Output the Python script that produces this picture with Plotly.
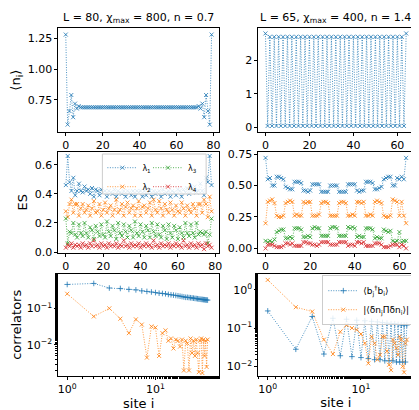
import plotly.graph_objects as go

n_left = [1.28,0.55,0.66,0.79,0.61,0.72,0.68,0.70,
0.69,0.69,0.69,0.69,0.69,0.69,0.69,0.69,0.69,0.69,0.69,0.69,0.69,0.69,0.69,0.69,
0.69,0.69,0.69,0.69,0.69,0.69,0.69,0.69,0.69,0.69,0.69,0.69,0.69,0.69,0.69,0.69,
0.69,0.69,0.69,0.69,0.69,0.69,0.69,0.69,0.69,0.69,0.69,0.69,0.69,0.69,0.69,0.69,
0.69,0.69,0.69,0.69,0.69,0.69,0.69,0.69,0.69,0.69,0.69,0.69,0.69,0.69,0.69,0.69,
0.70,0.68,0.72,0.61,0.79,0.66,0.55,1.28]
n_right = [2.8,0.05,2.7,0.05,2.7,0.05,2.7,0.05,2.7,0.05,2.7,0.05,2.7,0.05,2.7,0.05,
2.7,0.05,2.7,0.05,2.7,0.05,2.7,0.05,2.7,0.05,2.7,0.05,2.7,0.05,2.7,0.05,
2.7,0.05,2.7,0.05,2.7,0.05,2.7,0.05,2.7,0.05,2.7,0.05,2.7,0.05,2.7,0.05,
2.7,0.05,2.7,0.05,2.7,0.05,2.7,0.05,2.7,0.05,2.7,0.05,2.7,0.05,2.7,0.05,2.8]

l1_left = [0.46,0.66,0.48,0.42,0.51,0.39,0.42,0.47,0.42,0.41,
0.45,0.42,0.43,0.40,0.44,0.38,0.43,0.42,0.39,0.43,
0.41,0.42,0.38,0.42,0.41,0.40,0.43,0.38,0.42,0.41,
0.40,0.42,0.38,0.42,0.41,0.39,0.42,0.38,0.42,0.41,
0.42,0.38,0.42,0.39,0.41,0.42,0.38,0.42,0.40,0.41,
0.42,0.38,0.43,0.40,0.41,0.42,0.38,0.42,0.41,0.39,
0.43,0.42,0.38,0.43,0.41,0.44,0.40,0.43,0.42,0.45,
0.41,0.42,0.47,0.42,0.39,0.51,0.48,0.66,0.46]
l2_left = [0.28,0.24,0.33,0.36,0.27,0.33,0.33,0.25,0.30,0.33,
0.27,0.29,0.32,0.25,0.30,0.35,0.27,0.28,0.33,0.25,
0.29,0.34,0.27,0.30,0.32,0.25,0.29,0.36,0.27,0.29,
0.33,0.25,0.31,0.34,0.27,0.30,0.32,0.25,0.30,0.35,
0.25,0.31,0.32,0.27,0.30,0.34,0.25,0.36,0.29,0.27,
0.35,0.30,0.25,0.33,0.29,0.27,0.34,0.29,0.25,0.32,
0.28,0.27,0.34,0.30,0.25,0.32,0.29,0.27,0.33,0.30,
0.25,0.33,0.33,0.27,0.36,0.33,0.24,0.38,0.28]
l3_left = [0.23,0.06,0.14,0.13,0.20,0.12,0.10,0.19,0.13,0.11,
0.20,0.13,0.10,0.17,0.15,0.09,0.18,0.14,0.11,0.19,
0.12,0.10,0.21,0.14,0.11,0.18,0.15,0.09,0.20,0.13,
0.11,0.19,0.14,0.10,0.18,0.15,0.10,0.21,0.13,0.11,
0.19,0.14,0.10,0.18,0.15,0.10,0.20,0.14,0.11,0.19,
0.12,0.10,0.18,0.15,0.09,0.19,0.13,0.10,0.18,0.15,
0.09,0.17,0.13,0.10,0.20,0.13,0.11,0.19,0.13,0.10,
0.20,0.12,0.14,0.13,0.12,0.14,0.06,0.12,0.23]
l4_left = [0.03,0.05,0.04,0.06,0.03,0.05,0.04,0.05,0.03,0.06,
0.04,0.05,0.03,0.06,0.04,0.08,0.04,0.05,0.03,0.06,
0.04,0.05,0.03,0.06,0.04,0.05,0.04,0.06,0.03,0.05,
0.04,0.08,0.04,0.05,0.03,0.06,0.04,0.05,0.04,0.06,
0.03,0.05,0.04,0.06,0.04,0.05,0.03,0.08,0.04,0.05,
0.03,0.06,0.04,0.05,0.04,0.06,0.03,0.05,0.04,0.06,
0.04,0.05,0.03,0.08,0.04,0.05,0.03,0.06,0.04,0.05,
0.03,0.06,0.04,0.05,0.02,0.06,0.04,0.05,0.03]

l1_right = [0.72, 0.55,0.56,0.50,0.50, 0.57,0.57,0.56,0.55, 0.49,0.48,0.47,0.47,
0.53,0.53,0.53,0.52, 0.46,0.46,0.45,0.46, 0.51,0.51,0.51,0.51, 0.45,0.45,0.45,0.45,
0.50,0.50,0.50,0.50, 0.45,0.45,0.45,0.45, 0.51,0.51,0.51,0.51, 0.46,0.45,0.46,0.46,
0.53,0.53,0.53,0.52, 0.47,0.47,0.48,0.49, 0.55,0.56,0.57,0.57, 0.50,0.50,0.56,0.55,
0.57,0.55, 0.72]
l2_right = [0.20, 0.37,0.38,0.39,0.36, 0.26,0.25,0.25,0.26, 0.36,0.37,0.38,0.37,
0.26,0.27,0.26,0.26, 0.37,0.36,0.37,0.37, 0.26,0.26,0.26,0.27, 0.36,0.37,0.37,0.36,
0.26,0.26,0.26,0.26, 0.36,0.37,0.37,0.36, 0.26,0.26,0.27,0.26, 0.37,0.37,0.36,0.37,
0.26,0.26,0.27,0.26, 0.37,0.38,0.37,0.36, 0.26,0.25,0.25,0.26, 0.39,0.38,0.37,0.26,
0.37,0.26, 0.20]
l3_right = [0.06, 0.05,0.06,0.05,0.07, 0.13,0.14,0.15,0.15, 0.08,0.08,0.09,0.08,
0.16,0.16,0.16,0.15, 0.09,0.09,0.10,0.09, 0.16,0.17,0.16,0.16, 0.10,0.10,0.10,0.10,
0.16,0.17,0.17,0.16, 0.10,0.10,0.10,0.10, 0.17,0.16,0.17,0.16, 0.09,0.10,0.09,0.09,
0.16,0.16,0.16,0.15, 0.08,0.09,0.08,0.08, 0.15,0.14,0.13,0.14, 0.06,0.05,0.06,0.13,
0.05,0.06, 0.06]
l4_right = [0.00, 0.03,0.03,0.03,0.02, 0.01,0.01,0.01,0.02, 0.04,0.04,0.03,0.04,
0.02,0.02,0.02,0.02, 0.05,0.05,0.04,0.04, 0.03,0.03,0.02,0.03, 0.05,0.05,0.05,0.05,
0.03,0.03,0.03,0.03, 0.05,0.05,0.05,0.05, 0.02,0.03,0.03,0.02, 0.05,0.05,0.04,0.05,
0.02,0.02,0.02,0.02, 0.04,0.04,0.04,0.03, 0.01,0.01,0.01,0.02, 0.03,0.03,0.03,0.01,
0.03,0.02, 0.00]

bb_left = [0.45,0.48,0.36,0.35,0.33,0.32,0.30,0.29,0.28,0.27,0.26,0.255,0.25,0.24,0.235,
0.23,0.225,0.22,0.215,0.21,0.205,0.20,0.20,0.197,0.195,0.192,0.19,0.187,0.185,0.183,
0.18,0.178,0.176,0.175,0.173,0.172,0.17,0.169,0.168]
dn_left = [0.25,0.06,0.10,0.052,0.021,0.05,0.036,0.0045,0.032,0.03,0.005,0.021,0.025,
0.013,0.015,0.008,0.014,0.013,0.009,0.014,0.002,0.013,0.011,0.002,0.015,0.006,0.013,
0.005,0.014,0.006,0.0018,0.013,0.015,0.0017,0.014,0.005,0.013,0.0025,0.014]
bb_right = [0.28,0.028,0.2,0.021,0.18,0.019,0.17,0.018,0.16,0.017,0.155,0.016,0.15,0.015,
0.145,0.015,0.14,0.014,0.135,0.014,0.13,0.014,0.13,0.013,0.125,0.013,0.12,0.013,0.12,
0.013,0.12]
dn_right = [1.8,0.35,0.27,0.05,0.021,0.08,0.12,0.1,0.09,0.07,0.04,0.012,0.06,0.04,0.015,
0.02,0.06,0.06,0.025,0.011,0.008,0.05,0.04,0.03,0.02,0.06,0.05,0.01,0.007,0.04,0.05]

C = ['#1f77b4', '#ff7f0e', '#2ca02c', '#d62728']
DASH = '1px,1.5px'
fig = go.Figure()

def tr(y, ax, color, name=None, legend=None, sym='x-thin', start=0):
    fig.add_trace(go.Scatter(
        x=list(range(start, start + len(y))), y=y, mode='lines+markers',
        xaxis='x' + ax, yaxis='y' + ax,
        line=dict(color=color, width=0.8, dash=DASH),
        marker=dict(symbol=sym, size=4, color=color, line=dict(width=0.8, color=color)),
        name=name, showlegend=name is not None, legend=legend))

tr(n_left, '', C[0])
tr(n_right, '2', C[0])
lam = [(l1_left, l1_right), (l2_left, l2_right), (l3_left, l3_right), (l4_left, l4_right)]
for i, (a, b) in enumerate(lam):
    tr(a, '3', C[i], name=f'λ<sub>{i+1}</sub>', legend='legend' if i < 2 else 'legend2')
for i, (a, b) in enumerate(lam):
    tr(b, '4', C[i])
tr(bb_left, '5', C[0], sym='cross-thin', start=1)
tr(dn_left, '5', C[1], start=1)
tr(bb_right, '6', C[0], sym='cross-thin', start=1, name='⟨b<sub>j</sub><sup>†</sup>b<sub>i</sub>⟩', legend='legend3')
tr(dn_right, '6', C[1], start=1, name='|⟨δn<sub>j</sub>Πδn<sub>i</sub>⟩|', legend='legend3')

xl = [0.119, 0.506]; xr = [0.601, 0.974]
rows = [[0.700, 0.959], [0.398, 0.651], [0.090, 0.346]]
ax = dict(showline=True, linecolor='black', linewidth=1, mirror=True, ticks='outside',
          ticklen=3, tickcolor='black', showgrid=False, zeroline=False)
lay = {}
names = ['', '2', '3', '4', '5', '6']
for k, nm in enumerate(names):
    r = k // 2
    xd = xl if k % 2 == 0 else xr
    lay['xaxis' + nm] = dict(ax, domain=xd, anchor='y' + nm)
    lay['yaxis' + nm] = dict(ax, domain=rows[r], anchor='x' + nm)

mn = dict(ticks='outside', ticklen=2, tickcolor='black')
lay['xaxis'].update(range=[-4, 83], tickvals=[0, 20, 40, 60, 80])
lay['yaxis'].update(range=[0.49, 1.33], tickvals=[0.75, 1.0, 1.25], ticktext=['0.75', '1.00', '1.25'],
                    title=dict(text='⟨n<sub>i</sub>⟩', standoff=4))
lay['xaxis2'].update(range=[-3.2, 67.2], tickvals=[0, 20, 40, 60])
lay['yaxis2'].update(range=[-0.13, 2.95], tickvals=[0, 1, 2])
lay['xaxis3'].update(range=[-4, 82], tickvals=[0, 20, 40, 60, 80])
lay['yaxis3'].update(range=[-0.005, 0.69], tickvals=[0, 0.2, 0.4, 0.6], ticktext=['0.0', '0.2', '0.4', '0.6'],
                     title=dict(text='ES', standoff=4))
lay['xaxis4'].update(range=[-3.2, 66.2], tickvals=[0, 20, 40, 60])
lay['yaxis4'].update(range=[-0.035, 0.77], tickvals=[0, 0.25, 0.5, 0.75], ticktext=['0.00', '0.25', '0.50', '0.75'])
lay['xaxis5'].update(type='log', range=[-0.1, 1.72], tickvals=[1, 10], ticktext=['10<sup>0</sup>', '10<sup>1</sup>'],
                     title=dict(text='site i', standoff=2), minor=mn)
lay['yaxis5'].update(type='log', range=[-2.85, -0.05], tickvals=[0.01, 0.1], ticktext=['10<sup>−2</sup>', '10<sup>−1</sup>'],
                     title=dict(text='correlators', standoff=2), minor=mn)
lay['xaxis6'].update(type='log', range=[-0.1, 1.56], tickvals=[1, 10], ticktext=['10<sup>0</sup>', '10<sup>1</sup>'],
                     title=dict(text='site i', standoff=2), minor=mn)
lay['yaxis6'].update(type='log', range=[-2.25, 0.42], tickvals=[0.01, 0.1, 1],
                     ticktext=['10<sup>−2</sup>', '10<sup>−1</sup>', '10<sup>0</sup>'], minor=mn)

lgd = dict(bgcolor='rgba(0,0,0,0)', borderwidth=0, font=dict(size=8), orientation='v',
           xanchor='left', yanchor='top', itemwidth=30)
fig.update_layout(
    width=419, height=410, margin=dict(l=0, r=0, t=0, b=0),
    paper_bgcolor='white', plot_bgcolor='white',
    font=dict(family='DejaVu Sans', size=11, color='black'),
    legend=dict(lgd, x=0.225, y=0.647),
    legend2=dict(lgd, x=0.335, y=0.647),
    legend3=dict(lgd, x=0.755, y=0.342, font=dict(size=9), bgcolor='rgba(255,255,255,0.85)',
                 bordercolor='#cccccc', borderwidth=1),
    annotations=[
        dict(text='L = 80, χ<sub>max</sub> = 800, n = 0.7', x=0.3125, y=0.962, xref='paper', yref='paper',
             xanchor='center', yanchor='bottom', showarrow=False, font=dict(size=11)),
        dict(text='L = 65, χ<sub>max</sub> = 400, n = 1.4', x=0.7875, y=0.962, xref='paper', yref='paper',
             xanchor='center', yanchor='bottom', showarrow=False, font=dict(size=11)),
    ],
    **lay)
fig.add_shape(type='rect', xref='paper', yref='paper', x0=0.225, x1=0.475, y0=0.545, y1=0.645,
              line=dict(color='#cccccc', width=1), fillcolor='rgba(255,255,255,0.85)', layer='above')
fig.write_html('out.html')
